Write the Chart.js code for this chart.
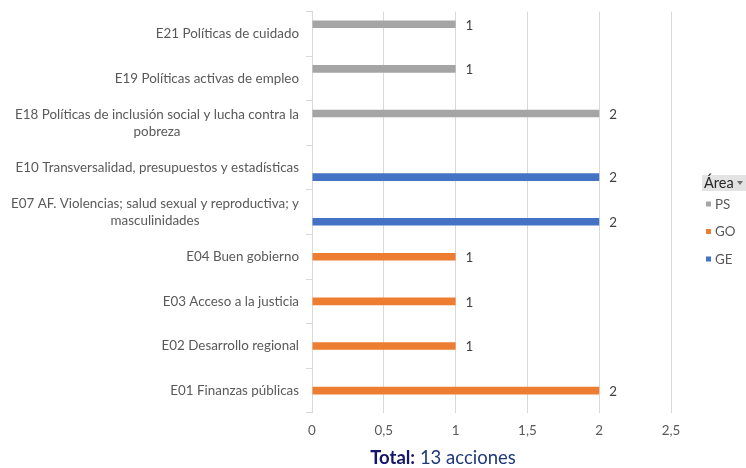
<!DOCTYPE html>
<html><head><meta charset="utf-8">
<script src="https://cdn.jsdelivr.net/npm/chart.js@4"></script>
<style>
html,body{margin:0;padding:0;background:#fff;}
#wrap{position:relative;width:746px;height:468px;overflow:hidden;}
#c{position:absolute;left:0;top:0;}
#title{position:absolute;left:293px;top:446px;width:300px;text-align:center;font-family:Lato,'Open Sans',sans-serif;font-size:18.5px;color:#1F3A7A;white-space:nowrap;}
#title b{color:#14166B;}
</style></head>
<body><div id="wrap"><canvas id="c" width="746" height="449"></canvas><div id="title"><b>Total:</b> 13 acciones</div></div>
<script>
const categories = [
  ["E21 Políticas de cuidado"],
  ["E19 Políticas activas de empleo"],
  ["E18 Políticas de inclusión social y lucha contra la", "pobreza"],
  ["E10 Transversalidad, presupuestos y estadísticas"],
  ["E07 AF. Violencias; salud sexual y reproductiva; y", "masculinidades"],
  ["E04 Buen gobierno"],
  ["E03 Acceso a la justicia"],
  ["E02 Desarrollo regional"],
  ["E01 Finanzas públicas"]
];
const areas = ["PS", "GO", "GE"];
const psValues = [1, 1, 2, null, null, null, null, null, null];
const goValues = [null, null, null, null, null, 1, 1, 1, 2];
const geValues = [null, null, null, 2, 2, null, null, null, null];
const xTickLabels = ["0", "0,5", "1", "1,5", "2", "2,5"];
const legendTitle = "Área";

const colors = ["#A5A5A5", "#ED7D31", "#4472C4"];
const FONT = "Lato, 'Open Sans', sans-serif";
const FS = 13.4;

const yLabelPlugin = {
  id: 'yLabels',
  afterDraw(chart) {
    const ctx = chart.ctx, s = chart.scales.y;
    ctx.save();
    ctx.font = FS + "px " + FONT;
    ctx.fillStyle = "#595959";
    ctx.textAlign = "center";
    ctx.textBaseline = "middle";
    const right = 299, lh = 16.5;
    categories.forEach((lines, i) => {
      const y = s.getPixelForTick(i);
      const w = Math.max(...lines.map(l => ctx.measureText(l).width));
      const cx = right - w / 2;
      const y0 = y - (lines.length - 1) * lh / 2;
      lines.forEach((l, k) => ctx.fillText(l, cx, y0 + k * lh));
    });
    ctx.restore();
  }
};

const valueLabelPlugin = {
  id: 'valueLabels',
  afterDatasetsDraw(chart) {
    const ctx = chart.ctx;
    ctx.save();
    ctx.font = FS + "px " + FONT;
    ctx.fillStyle = "#404040";
    ctx.textAlign = "left";
    ctx.textBaseline = "middle";
    chart.data.datasets.forEach((ds, di) => {
      const meta = chart.getDatasetMeta(di);
      meta.data.forEach((el, i) => {
        const v = ds.data[i];
        if (v === null || v === undefined) return;
        ctx.fillText(String(v).replace('.', ','), el.x + 10, el.y + 1);
      });
    });
    ctx.restore();
  }
};

const legendPlugin = {
  id: 'areaLegend',
  afterDraw(chart) {
    const ctx = chart.ctx;
    ctx.save();
    ctx.fillStyle = "#E3E3E3";
    ctx.fillRect(702, 175, 44, 16);
    ctx.font = "14.5px " + FONT;
    ctx.fillStyle = "#262626";
    ctx.textAlign = "left";
    ctx.textBaseline = "middle";
    ctx.fillText(legendTitle, 704, 183.5);
    ctx.fillStyle = "#707070";
    ctx.beginPath();
    ctx.moveTo(737, 181); ctx.lineTo(743, 181); ctx.lineTo(740, 185); ctx.closePath();
    ctx.fill();
    chart.data.datasets.forEach((ds, i) => {
      const cy = 204 + i * 27.5;
      ctx.fillStyle = ds.backgroundColor;
      ctx.fillRect(706, cy - 2.5, 5, 5);
      ctx.font = FS + "px " + FONT;
      ctx.fillStyle = "#595959";
      ctx.fillText(ds.label, 715, cy + 0.5);
    });
    ctx.restore();
  }
};

new Chart(document.getElementById('c'), {
  type: 'bar',
  data: {
    labels: categories,
    datasets: [
      { label: areas[0], data: psValues, backgroundColor: colors[0] },
      { label: areas[1], data: goValues, backgroundColor: colors[1] },
      { label: areas[2], data: geValues, backgroundColor: colors[2] }
    ]
  },
  options: {
    indexAxis: 'y',
    responsive: false,
    animation: false,
    events: [],
    categoryPercentage: 0.64,
    barPercentage: 0.8,
    layout: { padding: { top: 11.5, right: 75, left: 0, bottom: 0 } },
    plugins: { legend: { display: false }, tooltip: { enabled: false }, title: { display: false } },
    scales: {
      x: {
        min: 0, max: 2.5,
        ticks: {
          stepSize: 0.5, padding: 10, color: "#595959", font: { family: FONT, size: FS },
          callback: (v, i) => xTickLabels[i]
        },
        grid: { color: "#D9D9D9", drawTicks: false },
        border: { display: false }
      },
      y: {
        ticks: { display: false },
        grid: { drawOnChartArea: false, drawTicks: true, tickLength: 6, color: "#D9D9D9", offset: true },
        border: { display: true, color: "#D9D9D9" },
        afterFit: s => { s.width = 312; }
      }
    }
  },
  plugins: [yLabelPlugin, valueLabelPlugin, legendPlugin]
});
</script>
</body></html>
